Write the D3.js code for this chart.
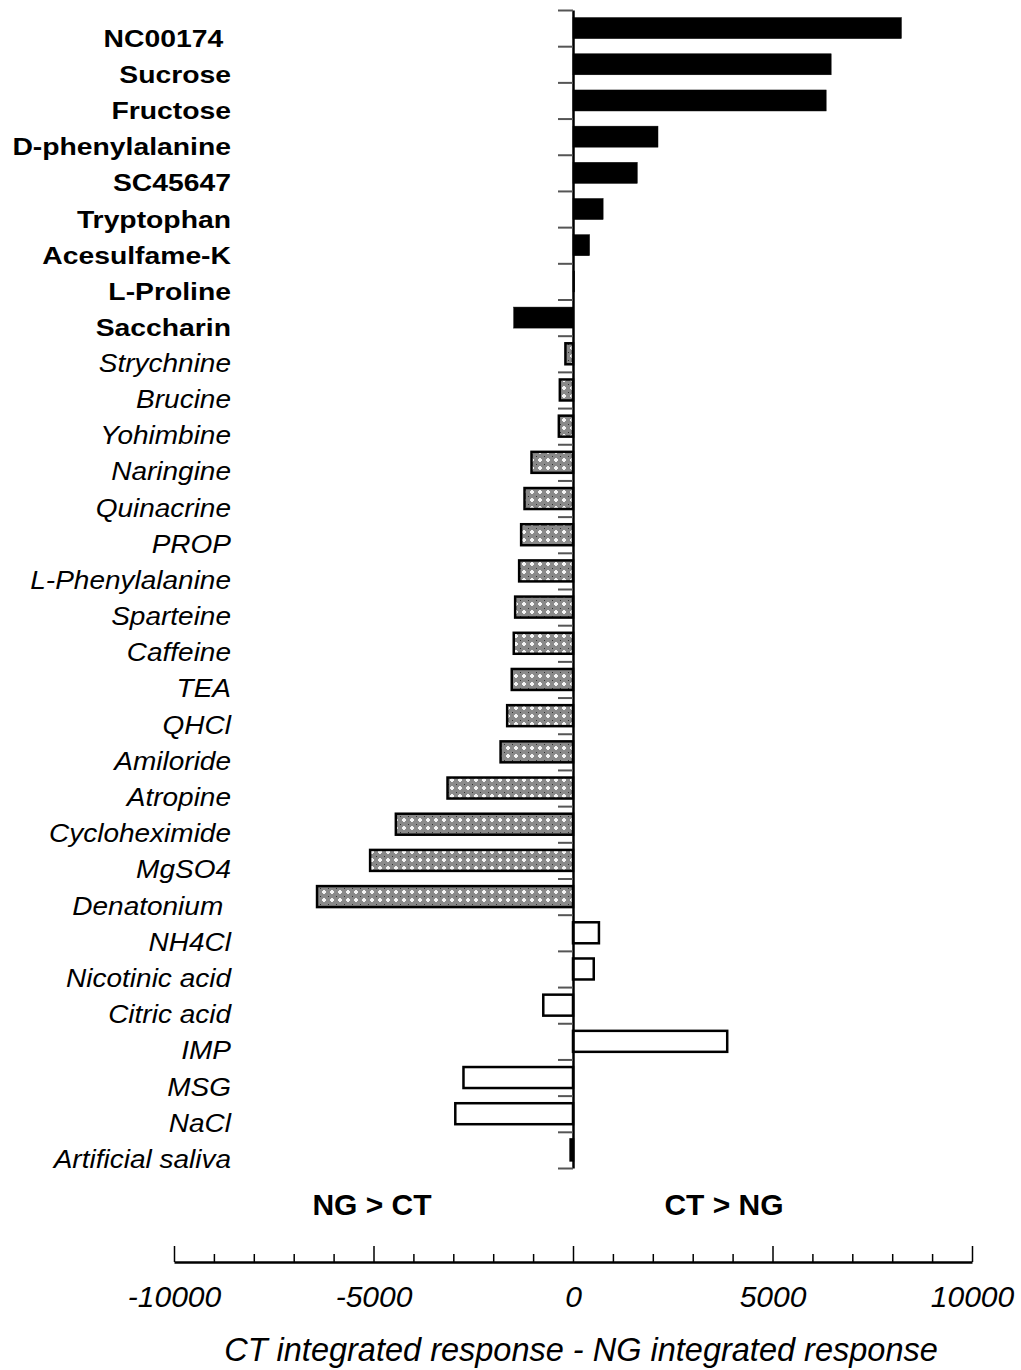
<!DOCTYPE html>
<html>
<head>
<meta charset="utf-8">
<script src="https://cdn.jsdelivr.net/npm/d3@7"></script>
<style>
  body { margin: 0; background: #fff; }
  svg { display: block; font-family: "Liberation Sans", Arial, Helvetica, sans-serif; }
</style>
</head>
<body>
<svg id="chart"></svg>
<script>
// compounds, top to bottom
const categories = [
  "NC00174 ", "Sucrose", "Fructose", "D-phenylalanine", "SC45647", "Tryptophan",
  "Acesulfame-K", "L-Proline", "Saccharin",
  "Strychnine", "Brucine", "Yohimbine", "Naringine", "Quinacrine", "PROP",
  "L-Phenylalanine", "Sparteine", "Caffeine", "TEA", "QHCl", "Amiloride",
  "Atropine", "Cycloheximide", "MgSO4", "Denatonium ",
  "NH4Cl", "Nicotinic acid", "Citric acid", "IMP", "MSG", "NaCl", "Artificial saliva"
];
// CT integrated response - NG integrated response
const values = [
  8230, 6470, 6345, 2130, 1610, 755, 415, 40, -1485,
  -190, -330, -355, -1040, -1215, -1300, -1350, -1450, -1485, -1535, -1650, -1815,
  -3145, -4440, -5085, -6415,
  650, 520, -745, 3865, -2745, -2950, -60
];
// sweet / bitter / other
const groups = [
  "sweet", "sweet", "sweet", "sweet", "sweet", "sweet", "sweet", "sweet", "sweet",
  "bitter", "bitter", "bitter", "bitter", "bitter", "bitter", "bitter", "bitter",
  "bitter", "bitter", "bitter", "bitter", "bitter", "bitter", "bitter", "bitter",
  "other", "other", "other", "other", "other", "other", "other"
];
const xTicks = d3.range(-10000, 10001, 1000);
const xTickLabels = [-10000, -5000, 0, 5000, 10000];

const data = categories.map((c, i) => ({ name: c, value: values[i], group: groups[i] }));

const W = 1021, H = 1370;
const plotTop = 10, plotBottom = 1168;

const svg = d3.select("#chart").attr("width", W).attr("height", H);

// hatch pattern for bitter compounds
const pat = svg.append("defs").append("pattern")
  .attr("id", "hatch")
  .attr("patternUnits", "userSpaceOnUse")
  .attr("width", 8).attr("height", 8);
pat.append("rect").attr("width", 8).attr("height", 8).attr("fill", "#8a8a8a");
pat.append("rect").attr("x", 2).attr("y", 3).attr("width", 4).attr("height", 2).attr("fill", "#f4f4f4");
pat.append("rect").attr("x", 3).attr("y", 2).attr("width", 2).attr("height", 4).attr("fill", "#f4f4f4");
pat.append("rect").attr("x", 0).attr("y", 0).attr("width", 1).attr("height", 1).attr("fill", "#333");

const x = d3.scaleLinear().domain([-10000, 10000]).range([174, 972]);

const y = d3.scaleBand()
  .domain(categories)
  .range([plotTop, plotBottom])
  .paddingInner(0.42)
  .paddingOuter(0.21);

const idx = d3.scaleLinear().domain([0, categories.length]).range([plotTop, plotBottom]);

// bars
svg.append("g")
  .selectAll("rect")
  .data(data)
  .enter()
  .append("rect")
  .attr("x", d => x(Math.min(0, d.value)))
  .attr("y", d => y(d.name))
  .attr("width", d => Math.abs(x(d.value) - x(0)))
  .attr("height", y.bandwidth())
  .attr("fill", d => d.group === "sweet" ? "#000" : d.group === "bitter" ? "url(#hatch)" : "#fff")
  .attr("stroke", "#000")
  .attr("stroke-width", d => d.group === "sweet" ? 0.5 : 2.5);

// vertical category axis at zero
const yAxis = svg.append("g")
  .attr("transform", "translate(" + x(0) + ",0)")
  .call(d3.axisLeft(idx).tickValues(d3.range(categories.length + 1)).tickFormat("").tickSize(15).tickSizeOuter(0));
yAxis.select(".domain").attr("stroke", "#000").attr("stroke-width", 2.5);
yAxis.selectAll(".tick line").attr("stroke", "#555").attr("stroke-width", 2);

// category labels
svg.append("g")
  .selectAll("text")
  .data(data)
  .enter()
  .append("text")
  .attr("transform", d => {
    const yy = y(d.name) + y.bandwidth() / 2 + (d.group === "sweet" ? 18.5 : 18);
    const sx = d.group === "sweet" ? 1.18 : 1.12;
    return "translate(231," + yy + ") scale(" + sx + ",1)";
  })
  .attr("text-anchor", "end")
  .attr("font-size", d => d.group === "sweet" ? "24px" : "25px")
  .attr("font-weight", d => d.group === "sweet" ? "bold" : "normal")
  .attr("font-style", d => d.group === "sweet" ? "normal" : "italic")
  .attr("fill", "#000")
  .style("white-space", "pre")
  .text(d => d.name);

// bottom value axis
const axisY = 1262;
const xAxis = svg.append("g")
  .attr("transform", "translate(0," + axisY + ")")
  .call(d3.axisBottom(x).tickValues(xTicks).tickSize(0).tickSizeOuter(0)
    .tickFormat(d => xTickLabels.includes(d) ? d : ""));
xAxis.select(".domain").attr("stroke", "#000").attr("stroke-width", 2.5);
xAxis.selectAll(".tick line")
  .attr("y2", d => d % 5000 === 0 ? -16 : -8)
  .attr("stroke", "#000")
  .attr("stroke-width", 1.5);
xAxis.selectAll(".tick text")
  .attr("y", 45)
  .attr("dy", 0)
  .attr("font-size", "30px")
  .attr("font-style", "italic")
  .attr("font-family", "Liberation Sans, Arial, sans-serif")
  .attr("fill", "#000");

// direction labels
svg.append("text")
  .attr("x", 372).attr("y", 1215)
  .attr("text-anchor", "middle")
  .attr("font-size", "30px").attr("font-weight", "bold")
  .text("NG > CT");
svg.append("text")
  .attr("x", 724).attr("y", 1215)
  .attr("text-anchor", "middle")
  .attr("font-size", "30px").attr("font-weight", "bold")
  .text("CT > NG");

// axis title
svg.append("text")
  .attr("x", 581).attr("y", 1361)
  .attr("text-anchor", "middle")
  .attr("font-size", "32.5px").attr("font-style", "italic")
  .text("CT integrated response - NG integrated response");
</script>
</body>
</html>
